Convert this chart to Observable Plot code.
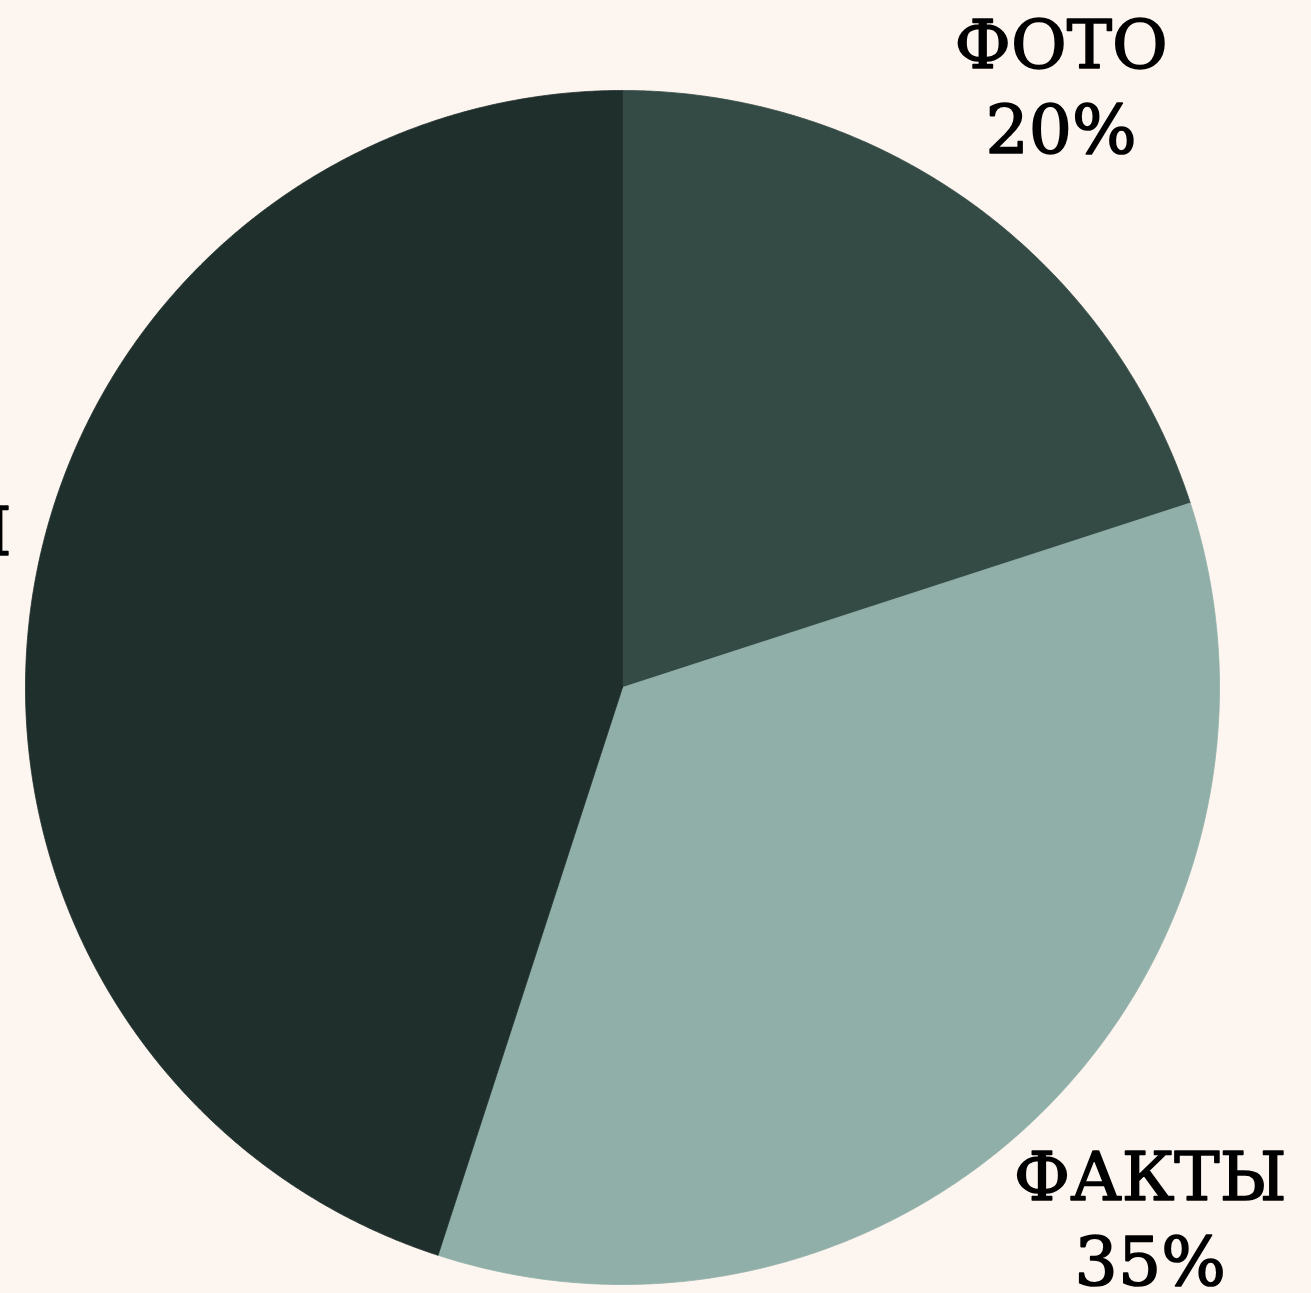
<!DOCTYPE html>
<html>
<head>
<meta charset="utf-8">
<script src="https://cdn.jsdelivr.net/npm/d3@7"></script>
<script src="https://cdn.jsdelivr.net/npm/@observablehq/plot@0.6"></script>
<style>
  html, body { margin: 0; padding: 0; background: #fdf5ef; overflow: hidden; }
  #chart svg { display: block; }
</style>
</head>
<body>
<div id="chart"></div>
<script>
// Data
const categories = ["ФОТО", "ФАКТЫ", "МИФЫ"];
const shares = [20, 35, 45];
const colors = ["#344a45", "#90afa8", "#1f2f2c"];

const W = 1311, H = 1293;
const cx = 622, cy = 687, R = 597;
const labelR = 1.25;

const total = d3.sum(shares);
let acc = 0;
const slices = categories.map((name, i) => {
  const a0 = acc / total * 2 * Math.PI;
  acc += shares[i];
  const a1 = acc / total * 2 * Math.PI;
  return {name, value: shares[i], a0, a1};
});

// polygon vertices for each slice (unit circle, angle clockwise from top)
const pts = [];
for (const s of slices) {
  pts.push({name: s.name, x: 0, y: 0});
  const n = Math.max(2, Math.ceil((s.a1 - s.a0) / 0.005));
  for (let k = 0; k <= n; k++) {
    const a = s.a0 + (s.a1 - s.a0) * k / n;
    pts.push({name: s.name, x: Math.sin(a), y: Math.cos(a)});
  }
  pts.push({name: s.name, x: 0, y: 0});
}

const labels = slices.map(s => {
  const a = (s.a0 + s.a1) / 2;
  return {text: `${s.name}\n${s.value}%`, x: labelR * Math.sin(a), y: labelR * Math.cos(a)};
});

const chart = Plot.plot({
  width: W,
  height: H,
  margin: 0,
  style: {background: "#fdf5ef", overflow: "visible"},
  x: {domain: [-cx / R, (W - cx) / R], axis: null},
  y: {domain: [-(H - cy) / R, cy / R], axis: null},
  color: {domain: categories, range: colors},
  marks: [
    Plot.line(pts, {x: "x", y: "y", z: "name", fill: "name", stroke: "name", strokeWidth: 0.8, curve: "linear-closed"}),
    Plot.text(labels, {x: "x", y: "y", text: "text", fontSize: 68, lineHeight: 1.25, fill: "#000", stroke: "#000", strokeWidth: 1.6, fontFamily: "DejaVu Serif", textAnchor: "middle"})
  ]
});
document.getElementById("chart").appendChild(chart);
</script>
</body>
</html>
